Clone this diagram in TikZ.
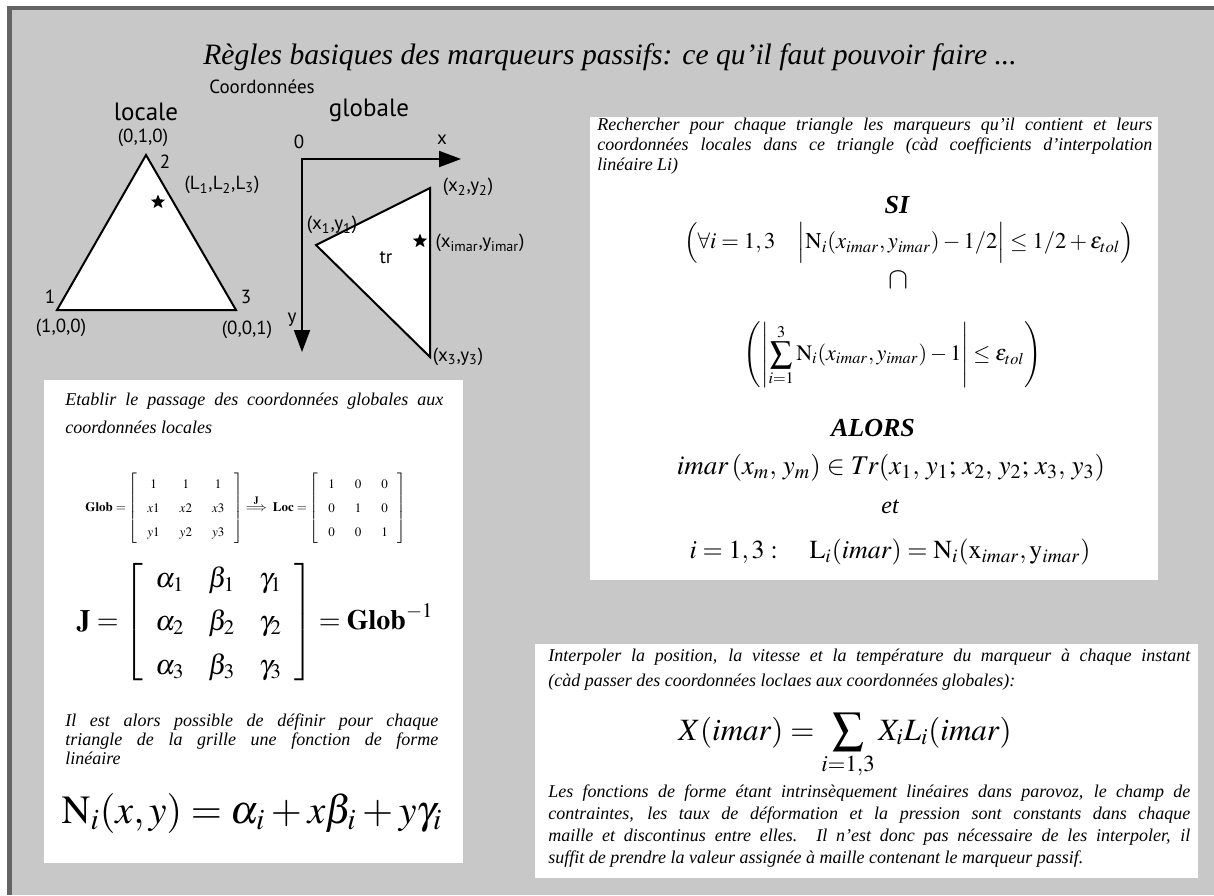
\documentclass[tikz,border=0pt]{standalone}
\usepackage{amsmath,amssymb}
\usepackage{mathptmx}
\usepackage{fontspec}
\setmainfont{Liberation Serif}
\newfontfamily\labelfont{PT Sans}
\usetikzlibrary{shapes.geometric, arrows.meta, positioning, calc}
\definecolor{slidegray}{RGB}{200,200,200}
\definecolor{framegray}{RGB}{100,100,100}
\tikzset{every node/.append style={align=center}}
\tikzset{
  edge/.style={draw=black, line width=1pt, line join=miter, fill=white},
  axis/.style={-{Triangle[length=11pt,width=8pt]}, line width=1pt, line cap=rect, black},
  mk/.style={star, star points=5, star point ratio=2.3, fill=black, inner sep=0pt, minimum size=7.5pt},
  lbl/.style={font=\labelfont\fontsize{9.5}{11}\selectfont, inner sep=0pt},
  hdr/.style={font=\labelfont\fontsize{12.5}{14}\selectfont, inner sep=0pt},
  prose/.style={font=\itshape\fontsize{9}{9.5}\selectfont, align=justify, inner sep=0pt, anchor=north west},
  eq/.style={inner sep=0pt, font=\fontsize{12.5}{15}\selectfont},
  kw/.style={font=\itshape\bfseries\fontsize{13}{15}\selectfont, inner sep=0pt}
}

\begin{document}
\begin{tikzpicture}[x=0.5pt, y=-0.5pt]
  \useasboundingbox (0,0) rectangle (1214,895);
  % slide background and frame
  \fill[white] (0,0) rectangle (1214,895);
  \fill[slidegray] (7,6) rectangle (1214,895);
  \fill[framegray] (7,6) rectangle (1214,10);
  \fill[framegray] (7,6) rectangle (12,895);
  % white panels
  \fill[white] (590,117) rectangle (1158,580);
  \fill[white] (44,380) rectangle (463,863);
  \fill[white] (535,644) rectangle (1198,878);

  \node[font=\itshape\fontsize{14.8}{16}\selectfont] (title) at (610,57)
    {Règles basiques des marqueurs passifs: ce qu'il faut pouvoir faire ...};
  \node[lbl] (coord) at (262,87) {Coordonnées};
  \node[hdr] (loc) at (146,112) {locale};
  \node[hdr] (glo) at (369,110) {globale};

  % local triangle
  \coordinate (L1) at (57,310);
  \coordinate (L2) at (146,155);
  \coordinate (L3) at (236,310);
  \draw[edge] (L1) -- (L2) -- (L3) -- cycle;
  \node[mk] (starL) at (158,202) {};
  \node[lbl] (p010) at (143,138) {(0,1,0)};
  \node[lbl] (n2) at (165,162) {2};
  \node[lbl] (pL) at (222,185) {(L\textsubscript{1},L\textsubscript{2},L\textsubscript{3})};
  \node[lbl] (n1) at (50,297) {1};
  \node[lbl] (p100) at (61,328) {(1,0,0)};
  \node[lbl] (n3) at (246,297) {3};
  \node[lbl] (p001) at (247,330) {(0,0,1)};

  % global axes and triangle
  \coordinate (O) at (302,159);
  \coordinate (Xtip) at (461,159);
  \coordinate (Ytip) at (302,352);
  \draw[axis] (O) -- (Xtip);
  \draw[axis] (O) -- (Ytip);
  \node[lbl] (n0) at (299,142) {0};
  \node[lbl] (nx) at (442,140) {x};
  \node[lbl] (ny) at (292,320) {y};
  \coordinate (G1) at (316,245);
  \coordinate (G2) at (430,188);
  \coordinate (G3) at (430,357);
  \draw[edge] (G1) -- (G2) -- (G3) -- cycle;
  \node[mk] (starG) at (420,241) {};
  \node[lbl] (tr) at (386,258) {tr};
  \node[lbl] (p2) at (468,187) {(x\textsubscript{2},y\textsubscript{2})};
  \node[lbl] (p1) at (332,225) {(x\textsubscript{1},y\textsubscript{1})};
  \node[lbl] (pm) at (480,243) {(x\textsubscript{imar},y\textsubscript{imar})};
  \node[lbl] (p3) at (458,357) {(x\textsubscript{3},y\textsubscript{3})};

  % right panel: search
  \node[prose, text width=277.5pt, font=\itshape\fontsize{9}{10}\selectfont] (search) at (597,118)
    {Rechercher pour chaque triangle les marqueurs qu'il contient et leurs\linebreak
     coordonnées locales dans ce triangle (càd coefficients d'interpolation\linebreak
     linéaire Li)};
  \node[kw] (si) at (897,205) {SI};
  \node[eq, font=\fontsize{11.3}{14}\selectfont] (cond1) at (909,243)
    {$\Bigl(\forall i=1,3\quad\Bigl|\mathrm{N}_i(x_{imar},y_{imar})-1/2\Bigr|\le 1/2+\varepsilon_{tol}\Bigr)$};
  \node[eq, font=\fontsize{15}{17}\selectfont] (inter) at (898,280) {$\cap$};
  \node[eq, font=\fontsize{11}{13}\selectfont] (cond2) at (893,355)
    {$\left(\left|\displaystyle\sum_{i=1}^{3}\mathrm{N}_i(x_{imar},y_{imar})-1\right|\le\varepsilon_{tol}\right)$};
  \node[kw] (alors) at (873,428) {ALORS};
  \node[eq, font=\fontsize{13.5}{16}\selectfont] (inside) at (891,468)
    {$imar\left(x_m,\,y_m\right)\in Tr(x_1,\,y_1;\,x_2,\,y_2;\,x_3,\,y_3)$};
  \node[font=\itshape\fontsize{12}{14}\selectfont, inner sep=0pt] (et) at (890,507) {et};
  \node[eq, font=\fontsize{13}{16}\selectfont] (Li) at (890,552)
    {$i=1,3:\quad\mathrm{L}_i(imar)=\mathrm{N}_i(\mathrm{x}_{imar},\mathrm{y}_{imar})$};

  % left panel: global to local
  \node[prose, text width=189pt, font=\itshape\fontsize{9}{14}\selectfont] (pass) at (65,393)
    {Etablir le passage des coordonnées globales aux\linebreak coordonnées locales};
  \node[eq, font=\fontsize{6.5}{8}\selectfont] (glob) at (246,508)
    {\renewcommand\arraystretch{1.5}\setlength\arraycolsep{5pt}%
     $\mathbf{Glob}=\left[\begin{array}{ccc}1&1&1\\ x1&x2&x3\\ y1&y2&y3\end{array}\right]
      \overset{\mathbf{J}}{\Longrightarrow}\ \mathbf{Loc}=\left[\begin{array}{ccc}1&0&0\\ 0&1&0\\ 0&0&1\end{array}\right]$};
  \node[eq, font=\fontsize{14}{17}\selectfont] (jac) at (255,622)
    {\renewcommand\arraystretch{1.28}\setlength\arraycolsep{6pt}\delimiterfactor=800\delimitershortfall=16pt%
     $\mathbf{J}=\left[\begin{array}{ccc}\alpha_1&\beta_1&\gamma_1\\ \alpha_2&\beta_2&\gamma_2\\ \alpha_3&\beta_3&\gamma_3\end{array}\right]=\mathbf{Glob}^{-1}$};
  \node[prose, text width=186.5pt] (poss) at (65,713)
    {Il est alors possible de définir pour chaque\linebreak triangle de la grille une fonction de forme\linebreak linéaire};
  \node[eq, font=\fontsize{20}{24}\selectfont] (Ni) at (252,813)
    {$\mathrm{N}_i(x,y)=\alpha_i+x\beta_i+y\gamma_i$};

  % bottom right panel: interpolation
  \node[prose, text width=321pt, font=\itshape\fontsize{9}{12.5}\selectfont] (interp) at (548,649)
    {Interpoler la position, la vitesse et la température du marqueur à chaque instant\linebreak
     (càd passer des coordonnées loclaes aux coordonnées globales):};
  \node[eq, font=\fontsize{15.5}{19}\selectfont, anchor=base] (Xim) at (845,740)
    {$X(imar)=\displaystyle\sum_{i=1,3}X_iL_i(imar)$};
  \node[prose, text width=321pt, font=\itshape\fontsize{9}{11}\selectfont] (forme) at (548,784)
    {Les fonctions de forme étant intrinsèquement linéaires dans parovoz, le champ de\linebreak
     contraintes, les taux de déformation et la pression sont constants dans chaque\linebreak
     maille et discontinus entre elles. Il n'est donc pas nécessaire de les interpoler, il\linebreak
     suffit de prendre la valeur assignée à maille contenant le marqueur passif.};
\end{tikzpicture}
\end{document}
